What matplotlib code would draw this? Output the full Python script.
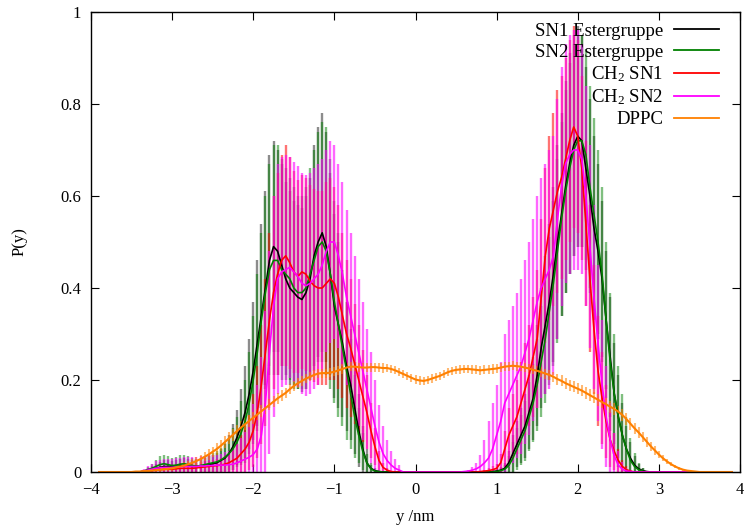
import numpy as np
import matplotlib
matplotlib.use("Agg")
import matplotlib.pyplot as plt
from matplotlib.lines import Line2D
from matplotlib.ticker import FuncFormatter
from matplotlib.colors import to_rgba

plt.rcParams["font.family"] = ["Liberation Serif", "DejaVu Serif"]
plt.rcParams["mathtext.fontset"] = "custom"
plt.rcParams["mathtext.rm"] = "Liberation Serif"
plt.rcParams["mathtext.it"] = "Liberation Serif:italic"

# --- data, probability density P(y) vs y in nm ---
# full grid of the histograms, values outside the listed segments are zero
x_full = np.round(np.arange(-3.90, 3.901, 0.05), 2)
x_left = np.round(np.arange(-3.40, -0.199, 0.05), 2)   # left leaflet segment
x_right = np.round(np.arange(0.60, 3.001, 0.05), 2)    # right leaflet segment
x_dppc = np.round(np.arange(-3.50, 3.501, 0.05), 2)

sn1_left = [0.0, 0.002, 0.004, 0.006, 0.008, 0.01, 0.012, 0.012, 0.011, 0.012,
            0.013, 0.014, 0.013, 0.012, 0.012, 0.013, 0.014, 0.016, 0.018, 0.02,
            0.025, 0.03, 0.04, 0.055, 0.075, 0.10, 0.13, 0.17, 0.22, 0.28,
            0.34, 0.40, 0.46, 0.49, 0.48, 0.45, 0.42, 0.40, 0.39, 0.38,
            0.375, 0.39, 0.42, 0.47, 0.50, 0.52, 0.49, 0.43, 0.36, 0.32,
            0.28, 0.23, 0.19, 0.14, 0.09, 0.05, 0.02, 0.008, 0.003, 0.001,
            0, 0, 0, 0, 0]
sn1_left_err = [0.0, 0.003, 0.005, 0.008, 0.01, 0.012, 0.014, 0.014, 0.013, 0.014,
                0.015, 0.016, 0.015, 0.014, 0.014, 0.015, 0.016, 0.018, 0.02, 0.022,
                0.025, 0.03, 0.04, 0.05, 0.06, 0.08, 0.10, 0.12, 0.15, 0.18,
                0.20, 0.21, 0.23, 0.23, 0.22, 0.22, 0.21, 0.21, 0.20, 0.20,
                0.20, 0.21, 0.22, 0.24, 0.25, 0.26, 0.25, 0.22, 0.20, 0.18,
                0.16, 0.14, 0.12, 0.10, 0.08, 0.05, 0.03, 0.012, 0.005, 0.002,
                0, 0, 0, 0, 0]
sn1_right = [0, 0, 0, 0, 0, 0, 0, 0.001,
             0.002, 0.004, 0.008, 0.02, 0.04, 0.06, 0.08, 0.10, 0.13, 0.16,
             0.21, 0.27, 0.32, 0.37, 0.43, 0.50, 0.56, 0.62, 0.67, 0.71,
             0.73, 0.72, 0.66, 0.60, 0.53, 0.48, 0.42, 0.33, 0.25, 0.17,
             0.12, 0.08, 0.05, 0.03, 0.015, 0.007, 0.003, 0.001, 0, 0, 0]
sn1_right_err = [0, 0, 0, 0, 0, 0, 0, 0.001,
                 0.003, 0.006, 0.012, 0.025, 0.04, 0.05, 0.06, 0.07, 0.08, 0.09,
                 0.11, 0.13, 0.15, 0.17, 0.19, 0.21, 0.22, 0.23, 0.24, 0.24,
                 0.24, 0.23, 0.22, 0.21, 0.20, 0.19, 0.17, 0.15, 0.13, 0.11,
                 0.09, 0.07, 0.05, 0.035, 0.02, 0.01, 0.005, 0.002, 0, 0, 0]

sn2_left = [0.0, 0.002, 0.005, 0.008, 0.012, 0.016, 0.018, 0.016, 0.014, 0.015,
            0.017, 0.018, 0.016, 0.014, 0.013, 0.014, 0.016, 0.018, 0.02, 0.022,
            0.026, 0.032, 0.04, 0.05, 0.065, 0.085, 0.11, 0.15, 0.20, 0.26,
            0.33, 0.39, 0.44, 0.46, 0.46, 0.44, 0.43, 0.42, 0.40, 0.39,
            0.39, 0.40, 0.43, 0.46, 0.49, 0.50, 0.48, 0.43, 0.37, 0.32,
            0.27, 0.22, 0.17, 0.12, 0.08, 0.045, 0.02, 0.007, 0.002, 0.001,
            0, 0, 0, 0, 0]
sn2_left_err = [0.0, 0.003, 0.006, 0.01, 0.014, 0.018, 0.02, 0.018, 0.016, 0.017,
                0.019, 0.02, 0.018, 0.016, 0.015, 0.016, 0.018, 0.02, 0.022, 0.024,
                0.026, 0.03, 0.035, 0.045, 0.055, 0.07, 0.09, 0.11, 0.14, 0.17,
                0.19, 0.21, 0.23, 0.25, 0.25, 0.24, 0.23, 0.22, 0.22, 0.21,
                0.21, 0.22, 0.23, 0.24, 0.25, 0.26, 0.27, 0.25, 0.22, 0.20,
                0.17, 0.15, 0.12, 0.09, 0.06, 0.04, 0.02, 0.008, 0.003, 0.001,
                0, 0, 0, 0, 0]
sn2_right = [0, 0, 0, 0, 0, 0, 0, 0,
             0.001, 0.003, 0.006, 0.014, 0.03, 0.05, 0.07, 0.09, 0.12, 0.15,
             0.19, 0.24, 0.29, 0.35, 0.41, 0.48, 0.55, 0.61, 0.66, 0.70,
             0.72, 0.72, 0.69, 0.62, 0.56, 0.50, 0.43, 0.33, 0.24, 0.17,
             0.12, 0.08, 0.05, 0.025, 0.012, 0.005, 0.002, 0, 0, 0, 0]
sn2_right_err = [0, 0, 0, 0, 0, 0, 0, 0,
                 0.002, 0.005, 0.01, 0.02, 0.035, 0.045, 0.055, 0.065, 0.075, 0.085,
                 0.10, 0.12, 0.14, 0.16, 0.18, 0.20, 0.21, 0.22, 0.23, 0.23,
                 0.23, 0.23, 0.23, 0.22, 0.21, 0.20, 0.19, 0.17, 0.15, 0.13,
                 0.11, 0.09, 0.07, 0.05, 0.03, 0.015, 0.006, 0.002, 0, 0, 0]

ch2sn1_left = [0.0, 0.0, 0.002, 0.003, 0.004, 0.005, 0.006, 0.006, 0.006, 0.007,
               0.008, 0.008, 0.008, 0.008, 0.009, 0.01, 0.011, 0.012, 0.013, 0.014,
               0.015, 0.017, 0.02, 0.025, 0.03, 0.04, 0.05, 0.065, 0.09, 0.13,
               0.19, 0.26, 0.33, 0.39, 0.43, 0.46, 0.47, 0.455, 0.435, 0.425,
               0.435, 0.43, 0.415, 0.405, 0.40, 0.40, 0.41, 0.42, 0.41, 0.38,
               0.34, 0.30, 0.27, 0.235, 0.20, 0.165, 0.13, 0.09, 0.055, 0.025,
               0.01, 0.004, 0.001, 0, 0]
ch2sn1_left_err = [0, 0, 0.003, 0.004, 0.005, 0.006, 0.007, 0.007, 0.007, 0.008,
                   0.009, 0.009, 0.009, 0.009, 0.01, 0.011, 0.012, 0.013, 0.014, 0.015,
                   0.016, 0.018, 0.02, 0.025, 0.03, 0.04, 0.05, 0.06, 0.08, 0.10,
                   0.13, 0.16, 0.19, 0.21, 0.22, 0.23, 0.24, 0.23, 0.22, 0.21,
                   0.21, 0.21, 0.21, 0.21, 0.21, 0.21, 0.22, 0.22, 0.21, 0.20,
                   0.18, 0.16, 0.15, 0.13, 0.12, 0.10, 0.08, 0.06, 0.04, 0.02,
                   0.01, 0.004, 0.001, 0, 0]
ch2sn1_right = [0, 0, 0, 0, 0.001, 0.002, 0.003, 0.005,
                0.008, 0.02, 0.05, 0.08, 0.10, 0.12, 0.15, 0.18, 0.21, 0.25,
                0.29, 0.38, 0.47, 0.53, 0.57, 0.61, 0.64, 0.68, 0.72, 0.75,
                0.73, 0.66, 0.54, 0.42, 0.31, 0.22, 0.16, 0.11, 0.07, 0.045,
                0.025, 0.012, 0.005, 0.002, 0, 0, 0, 0, 0, 0, 0]
ch2sn1_right_err = [0, 0, 0, 0, 0.002, 0.003, 0.005, 0.007,
                    0.01, 0.02, 0.04, 0.06, 0.07, 0.08, 0.09, 0.10, 0.11, 0.13,
                    0.15, 0.17, 0.19, 0.20, 0.21, 0.22, 0.22, 0.22, 0.22, 0.22,
                    0.21, 0.20, 0.18, 0.16, 0.14, 0.12, 0.10, 0.08, 0.06, 0.04,
                    0.025, 0.015, 0.007, 0.003, 0, 0, 0, 0, 0, 0, 0]

ch2sn2_left = [0.0, 0.002, 0.004, 0.006, 0.008, 0.009, 0.01, 0.01, 0.01, 0.011,
               0.011, 0.012, 0.012, 0.012, 0.012, 0.013, 0.013, 0.014, 0.014, 0.015,
               0.015, 0.015, 0.016, 0.017, 0.02, 0.024, 0.028, 0.032, 0.038, 0.05,
               0.08, 0.15, 0.26, 0.36, 0.42, 0.435, 0.44, 0.445, 0.435, 0.425,
               0.41, 0.405, 0.41, 0.42, 0.43, 0.45, 0.48, 0.50, 0.50, 0.47,
               0.43, 0.38, 0.34, 0.30, 0.26, 0.22, 0.18, 0.14, 0.10, 0.065,
               0.04, 0.025, 0.015, 0.008, 0.004]
ch2sn2_left_err = [0.0, 0.004, 0.008, 0.012, 0.015, 0.017, 0.018, 0.018, 0.018, 0.019,
                   0.019, 0.02, 0.02, 0.02, 0.02, 0.021, 0.021, 0.022, 0.022, 0.023,
                   0.025, 0.028, 0.03, 0.035, 0.04, 0.05, 0.06, 0.08, 0.11, 0.14,
                   0.17, 0.20, 0.22, 0.24, 0.25, 0.25, 0.25, 0.24, 0.24, 0.24,
                   0.24, 0.24, 0.24, 0.24, 0.24, 0.23, 0.22, 0.22, 0.21, 0.20,
                   0.20, 0.19, 0.18, 0.17, 0.16, 0.15, 0.13, 0.12, 0.10, 0.08,
                   0.06, 0.045, 0.03, 0.02, 0.012]
ch2sn2_right = [0.001, 0.002, 0.004, 0.007, 0.012, 0.02, 0.03, 0.05,
                0.08, 0.11, 0.15, 0.17, 0.19, 0.21, 0.23, 0.26, 0.29, 0.33,
                0.37, 0.40, 0.42, 0.44, 0.47, 0.55, 0.62, 0.67, 0.69, 0.70,
                0.70, 0.68, 0.60, 0.49, 0.38, 0.28, 0.19, 0.12, 0.07, 0.035,
                0.015, 0.006, 0.002, 0.001, 0, 0, 0, 0, 0, 0, 0]
ch2sn2_right_err = [0.001, 0.003, 0.006, 0.012, 0.025, 0.05, 0.08, 0.10,
                    0.11, 0.13, 0.15, 0.16, 0.17, 0.18, 0.19, 0.20, 0.21, 0.22,
                    0.23, 0.24, 0.25, 0.26, 0.26, 0.26, 0.26, 0.26, 0.26, 0.26,
                    0.26, 0.25, 0.24, 0.22, 0.20, 0.17, 0.14, 0.11, 0.08, 0.05,
                    0.03, 0.015, 0.006, 0.003, 0, 0, 0, 0, 0, 0, 0]

dppc = [0.000, 0.001, 0.001, 0.002, 0.002, 0.003, 0.004, 0.005, 0.006, 0.007,
        0.008, 0.010, 0.012, 0.014, 0.017, 0.020, 0.024, 0.028, 0.033, 0.038,
        0.044, 0.050, 0.057, 0.065, 0.073, 0.081, 0.089, 0.097, 0.104, 0.111,
        0.118, 0.125, 0.132, 0.139, 0.146, 0.153, 0.160, 0.166, 0.172, 0.180,
        0.187, 0.193, 0.198, 0.203, 0.207, 0.211, 0.214, 0.215, 0.215, 0.216,
        0.218, 0.221, 0.224, 0.227, 0.229, 0.229, 0.228, 0.227, 0.227, 0.228,
        0.228, 0.227, 0.226, 0.226, 0.224, 0.221, 0.217, 0.213, 0.209, 0.205,
        0.201, 0.199, 0.198, 0.200, 0.203, 0.206, 0.209, 0.213, 0.217, 0.220,
        0.222, 0.223, 0.224, 0.224, 0.223, 0.222, 0.221, 0.222, 0.223, 0.224,
        0.225, 0.227, 0.229, 0.230, 0.231, 0.230, 0.229, 0.227, 0.225, 0.222,
        0.220, 0.217, 0.214, 0.211, 0.207, 0.202, 0.198, 0.193, 0.189, 0.185,
        0.181, 0.177, 0.172, 0.167, 0.162, 0.157, 0.152, 0.147, 0.142, 0.137,
        0.131, 0.124, 0.115, 0.105, 0.095, 0.086, 0.076, 0.066, 0.056, 0.047,
        0.038, 0.030, 0.023, 0.017, 0.012, 0.008, 0.005, 0.003, 0.002, 0.001,
        0.000]
dppc_err = [0.000, 0.001, 0.001, 0.002, 0.002, 0.003, 0.003, 0.004, 0.004, 0.005,
            0.005, 0.006, 0.006, 0.007, 0.008, 0.008, 0.009, 0.010, 0.010, 0.011,
            0.011, 0.012, 0.012, 0.013, 0.013, 0.013, 0.013, 0.013, 0.013, 0.013,
            0.013, 0.013, 0.013, 0.012, 0.012, 0.012, 0.012, 0.012, 0.011, 0.011,
            0.011, 0.011, 0.011, 0.010, 0.010, 0.010, 0.010, 0.010, 0.010, 0.010,
            0.010, 0.010, 0.010, 0.010, 0.010, 0.010, 0.010, 0.010, 0.010, 0.010,
            0.010, 0.010, 0.010, 0.009, 0.009, 0.009, 0.009, 0.009, 0.009, 0.009,
            0.009, 0.009, 0.009, 0.009, 0.009, 0.009, 0.009, 0.009, 0.009, 0.009,
            0.009, 0.009, 0.009, 0.009, 0.010, 0.010, 0.010, 0.010, 0.010, 0.010,
            0.010, 0.010, 0.010, 0.010, 0.010, 0.010, 0.010, 0.010, 0.010, 0.010,
            0.010, 0.011, 0.011, 0.011, 0.011, 0.012, 0.012, 0.012, 0.012, 0.012,
            0.012, 0.012, 0.013, 0.013, 0.013, 0.013, 0.013, 0.013, 0.013, 0.013,
            0.013, 0.013, 0.013, 0.013, 0.012, 0.012, 0.011, 0.011, 0.010, 0.009,
            0.008, 0.007, 0.006, 0.005, 0.004, 0.003, 0.002, 0.002, 0.001, 0.001,
            0.000]

labels = ["SN1 Estergruppe", "SN2 Estergruppe", "CH$_2$ SN1", "CH$_2$ SN2", "DPPC"]
colors = ["#000000", "#008000", "#ff0000", "#ff00ff", "#ff8000"]


def on_full_grid(x_seg_list, vals_list):
    out = np.zeros(len(x_full))
    for xs, vs in zip(x_seg_list, vals_list):
        idx = np.searchsorted(x_full, xs[0])
        out[idx:idx + len(vs)] = vs
    return out


groups = [
    (sn1_left, sn1_left_err, sn1_right, sn1_right_err),
    (sn2_left, sn2_left_err, sn2_right, sn2_right_err),
    (ch2sn1_left, ch2sn1_left_err, ch2sn1_right, ch2sn1_right_err),
    (ch2sn2_left, ch2sn2_left_err, ch2sn2_right, ch2sn2_right_err),
]
bar_alpha = [0.45, 0.5, 0.55, 0.6]

fig = plt.figure(figsize=(7.44, 5.29), dpi=100)
ax = fig.add_axes([91 / 744, 1 - 472 / 529, 649 / 744, 460 / 529])

for (yl, el, yr, er), c, a in zip(groups, colors[:4], bar_alpha):
    y = on_full_grid([x_left, x_right], [yl, yr])
    e = on_full_grid([x_left, x_right], [el, er])
    ax.errorbar(x_full, y, yerr=e, color=c, lw=1.2, elinewidth=1.7,
                ecolor=to_rgba(c, a), capsize=0)

y_d = on_full_grid([x_dppc], [dppc])
e_d = on_full_grid([x_dppc], [dppc_err])
ax.errorbar(x_full, y_d, yerr=e_d, color=colors[4], lw=1.5, elinewidth=1.5,
            ecolor=to_rgba(colors[4], 0.55), capsize=0)

ax.set_xlim(-4, 4)
ax.set_ylim(0, 1)
ax.set_xticks(np.arange(-4, 5, 1))
ax.set_yticks(np.arange(0, 1.01, 0.2))
ax.yaxis.set_major_formatter(FuncFormatter(lambda v, p: "%g" % round(v, 1)))
ax.tick_params(direction="in", top=True, right=True, length=6, width=0.8,
               labelsize=12, pad=7)
for s in ax.spines.values():
    s.set_linewidth(1.0)

ax.set_xlabel("y /nm", fontsize=12, labelpad=8)
ax.set_ylabel("P(y)", fontsize=12, labelpad=24)

handles = [Line2D([], [], color=c, lw=1.3) for c in colors]
ax.legend(handles, labels, loc="upper right", bbox_to_anchor=(0.967, 0.977),
          frameon=False, markerfirst=False, fontsize=13.5, handlelength=2.4,
          handletextpad=0.55, labelspacing=0.2, borderpad=0, borderaxespad=0)

fig.savefig("out.png", dpi=100)
